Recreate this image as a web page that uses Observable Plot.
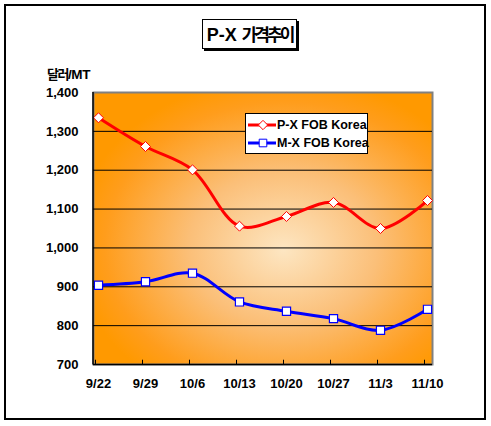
<!DOCTYPE html>
<html><head><meta charset="utf-8">
<script src="https://cdn.jsdelivr.net/npm/d3@7"></script>
<script src="https://cdn.jsdelivr.net/npm/@observablehq/plot@0.6"></script>
<style>
html,body{margin:0;padding:0;background:#fff;}
#wrap{position:relative;width:491px;height:426px;font-family:"Liberation Sans",Arial,sans-serif;}
#outer{position:absolute;left:4px;top:4px;width:478px;height:412px;border:2px solid #000;box-sizing:content-box;pointer-events:none;}
#title{position:absolute;left:202px;top:19px;width:93px;height:28px;border:1px solid #000;background:#fff;box-shadow:2px 2px 0 #000;font-weight:bold;font-size:18px;line-height:28px;text-align:center;white-space:nowrap;}
#title .ko{font-family:"Noto Sans CJK KR",sans-serif;font-size:17px;letter-spacing:-3px;}
#ylab{position:absolute;left:47px;top:64px;font-size:13.5px;font-weight:bold;white-space:nowrap;letter-spacing:-0.3px;}
#ylab .ko{font-family:"Noto Sans CJK KR",sans-serif;font-size:13px;letter-spacing:-1.5px;}
#legend{position:absolute;left:245px;top:113px;width:121px;height:39px;border:1px solid #000;background:#fff;font-weight:bold;font-size:12.5px;}
#legend .row{position:absolute;left:0;height:18px;line-height:18px;white-space:nowrap;}
#legend svg{position:absolute;left:1px;top:0;}
#legend span{position:absolute;left:31px;top:0;}
#chart{position:absolute;left:0;top:0;}
</style></head>
<body>
<div id="wrap">
  <div id="chart"></div>
  <div id="outer"></div>
  <div id="title">P-X <span class="ko">가격추이</span></div>
  <div id="ylab"><span class="ko">달러</span>/MT</div>
  <div id="legend"></div>
</div>
<script>
const dates = ["9/22","9/29","10/6","10/13","10/20","10/27","11/3","11/10"];
const pxValues = [1335,1261,1201,1056,1081,1117,1050,1122];
const mxValues = [904,913,935,861,837,818,788,842];
const seriesNames = ["P-X FOB Korea","M-X FOB Korea"];
const seriesColors = ["#ff0000","#0000ff"];
const seriesSymbols = ["diamond2","square"];
const yTicks = [700,800,900,1000,1100,1200,1300,1400];

const rows = [];
dates.forEach((d,i)=>{
  rows.push({date:d, value:pxValues[i], series:seriesNames[0]});
  rows.push({date:d, value:mxValues[i], series:seriesNames[1]});
});
const pRows = rows.filter(r=>r.series===seriesNames[0]);
const mRows = rows.filter(r=>r.series===seriesNames[1]);

const W=491,H=426,ML=93,MR=59,MT=92,MB=62;
const fmt = d3.format(",");

const chart = Plot.plot({
  width:W, height:H, marginLeft:ML, marginRight:MR, marginTop:MT, marginBottom:MB,
  x:{type:"point", domain:dates, padding:0, insetLeft:3, insetRight:4, label:null},
  y:{domain:[700,1400], label:null},
  style:{fontFamily:"'Liberation Sans', Arial, sans-serif", fontSize:"13px", fontWeight:"bold", background:"transparent", color:"#000", overflow:"visible"},
  marks:[
    Plot.frame({fill:"url(#bgGrad)", stroke:"#808080", strokeWidth:2}),
    Plot.gridY(yTicks.slice(1,-1), {stroke:"#000", strokeOpacity:1, strokeWidth:1}),
    Plot.ruleY([700], {stroke:"#000", strokeWidth:1.5}),
    Plot.ruleX(dates, {x:d=>d, y1:700, y2:711, dx:-3, stroke:"#000", strokeWidth:1}),
    Plot.axisY(yTicks, {tickSize:0, tickPadding:15, tickFormat:d=>fmt(d), fontWeight:"bold", fontSize:13}),
    Plot.axisX(dates, {tickSize:0, tickPadding:14, fontWeight:"bold", fontSize:13}),
    Plot.line(pRows, {x:"date", y:"value", curve:"catmull-rom", stroke:seriesColors[0], strokeWidth:3}),
    Plot.line(mRows, {x:"date", y:"value", curve:"catmull-rom", stroke:seriesColors[1], strokeWidth:3}),
    Plot.dot(pRows, {x:"date", y:"value", symbol:seriesSymbols[0], r:4.5, fill:"#fff", stroke:seriesColors[0], strokeWidth:1}),
    Plot.dot(mRows, {x:"date", y:"value", symbol:seriesSymbols[1], r:4.6, fill:"#fff", stroke:seriesColors[1], strokeWidth:1.2})
  ]
});
const svg = d3.select(chart);
svg.insert("defs",":first-child").html(
  `<radialGradient id="bgGrad" cx="0.56" cy="0.56" r="0.62" fx="0.56" fy="0.58">
     <stop offset="0" stop-color="#fde6c2"/>
     <stop offset="0.45" stop-color="#fbbf78"/>
     <stop offset="0.85" stop-color="#ff9d1c"/>
     <stop offset="1" stop-color="#ff9900"/>
   </radialGradient>`);
// left axis line
svg.append("line").attr("x1",ML).attr("x2",ML).attr("y1",MT).attr("y2",H-MB+0.5)
  .attr("stroke","#000").attr("stroke-width",1.5);
document.getElementById("chart").appendChild(chart);

// legend
const leg = d3.select("#legend");
seriesNames.forEach((name,i)=>{
  const row = leg.append("div").attr("class","row").style("top",(i===0?2:20)+"px").style("width","120px");
  const s = row.append("svg").attr("width",30).attr("height",18);
  s.append("line").attr("x1",1).attr("x2",29).attr("y1",9).attr("y2",9).attr("stroke",seriesColors[i]).attr("stroke-width",3);
  const sym = i===0 ? d3.symbol(d3.symbolDiamond2, Math.PI*4.2*4.2) : d3.symbol(d3.symbolSquare, Math.PI*4.3*4.3);
  s.append("path").attr("d",sym()).attr("transform","translate(16,9)").attr("fill","#fff").attr("stroke",seriesColors[i]).attr("stroke-width",1);
  row.append("span").text(name);
});
</script>
</body></html>
